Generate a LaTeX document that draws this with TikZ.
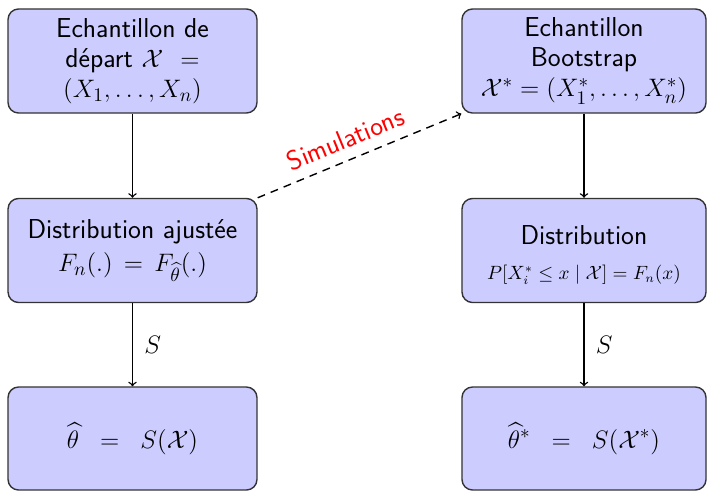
\documentclass[tikz,border=0pt]{standalone}
\usepackage{amsmath,amssymb}
\begin{document}
\begin{tikzpicture}[x=0.57pt,y=-0.57pt,
  box/.style={draw=black!80, line width=0.8pt, fill=blue!20, rounded corners=6pt,
    align=center, font=\sffamily\fontsize{15.6}{17.2}\selectfont, inner sep=0pt},
  boxl/.style={box, minimum width=141.9pt, minimum height=59.3pt},
  boxr/.style={box, minimum width=139.1pt, minimum height=59.3pt},
  conn/.style={->, line width=0.8pt},
  lbl/.style={font=\fontsize{15.6}{17.2}\selectfont}]
\useasboundingbox (0,0) rectangle (707,491);
\node[boxl] (A) at (132.5,61) {Echantillon de\\d\'epart $\mathcal{X}$ \ $=$\\$(X_1,\dots,X_n)$};
\node[boxl] (B) at (132.5,250.5) {Distribution ajust\'ee\\[2pt]$F_n(.)\,=\,F_{\widehat{\theta}}(.)$};
\node[boxl, minimum height=58.7pt] (C) at (132.5,438.5) {$\widehat{\theta}\;\;=\;\;S(\mathcal{X})$};
\node[boxr] (D) at (584,61) {Echantillon\\Bootstrap\\$\mathcal{X}^* = (X_1^*,\dots,X_n^*)$};
\node[boxr] (E) at (584,250.5) {\rule{0pt}{16pt}Distribution\\[3pt]{\fontsize{10.7}{13}\selectfont $P[X_i^* \leq x \mid \mathcal{X}] = F_n(x)$}};
\node[boxr, minimum height=58.7pt] (F) at (584,438.5) {$\widehat{\theta}^*\;\;=\;\;S(\mathcal{X}^*)$};
\draw[conn] (A) -- (B);
\draw[conn] (B) -- node[lbl, right=3pt] {$S$} (C);
\draw[conn] (D) -- (E);
\draw[conn] (E) -- node[lbl, right=3pt] {$S$} (F);
\draw[conn, dash pattern=on 4.5pt off 3.5pt] (B.north east) -- node[pos=0.47, sloped, above=2.5pt, text=red, font=\sffamily\fontsize{15.6}{17.2}\selectfont] {Simulations} (D.south west);
\end{tikzpicture}
\end{document}
